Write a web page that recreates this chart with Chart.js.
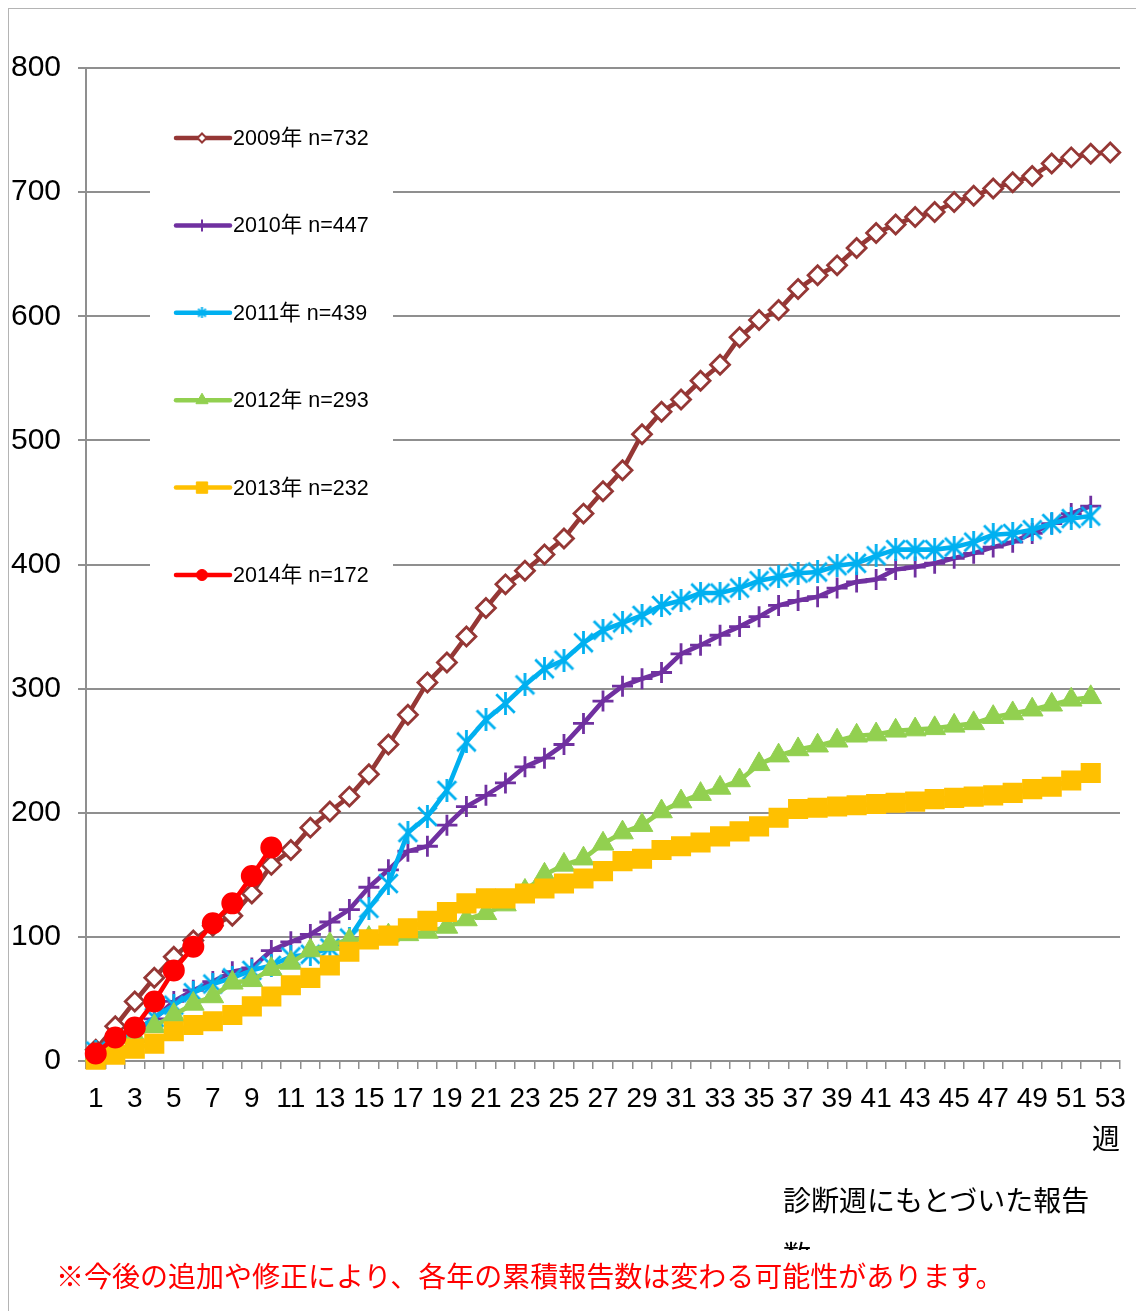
<!DOCTYPE html>
<html lang="ja">
<head>
<meta charset="utf-8">
<title>累積報告数</title>
<script src="https://cdn.jsdelivr.net/npm/chart.js@4.4.1/dist/chart.umd.min.js"></script>
<style>
  html, body { margin: 0; padding: 0; background: #fff; }
  #wrap { position: relative; width: 1136px; height: 1311px; overflow: hidden; background: #fff; }
  #frame { position: absolute; left: 8px; top: 8px; width: 1300px; height: 1400px;
           border-left: 1.5px solid #b4b4b4; border-top: 1.5px solid #b4b4b4; }
  #chart { position: absolute; left: 0; top: 0; }
  .jp { position: absolute; white-space: nowrap; color: #000;
        font-family: "Noto Sans CJK JP", "Noto Sans CJK SC", sans-serif; }
  #unit { left: 1092px; top: 1118px; font-size: 28px; line-height: 38px; }
  #basis { left: 783px; top: 1172px; width: 312px; height: 78px; overflow: hidden;
           white-space: normal; font-size: 28px; line-height: 55px; }
  #note { left: 56px; top: 1256px; font-size: 28px; line-height: 38px; color: #ff0000; }
</style>
</head>
<body>
<div id="wrap">
  <div id="frame"></div>
  <canvas id="chart" width="1136" height="1311"></canvas>
  <div class="jp" id="unit">週</div>
  <div class="jp" id="basis">診断週にもとづいた報告数</div>
  <div class="jp" id="note">※今後の追加や修正により、各年の累積報告数は変わる可能性があります。</div>
</div>
<script>
// Week numbers on the category axis
const weekLabels = ['1','2','3','4','5','6','7','8','9','10','11','12','13','14','15','16','17','18','19','20',
  '21','22','23','24','25','26','27','28','29','30','31','32','33','34','35','36','37','38','39','40',
  '41','42','43','44','45','46','47','48','49','50','51','52','53'];

// Cumulative number of reports by diagnosis week
const cum2009 = [9, 28, 48, 67, 84, 97, 109, 117, 135, 158, 170, 188, 201, 213, 231, 255, 279, 305, 321, 342,
  365, 384, 395, 408, 421, 441, 459, 476, 505, 523, 533, 548, 561, 583, 597, 605, 622, 633, 641, 655,
  667, 674, 680, 684, 692, 697, 703, 708, 713, 723, 728, 731, 732];
const cum2010 = [7, 16, 24, 34, 48, 57, 64, 72, 75, 89, 96, 102, 112, 122, 140, 154, 169, 173, 190, 205,
  214, 224, 237, 244, 255, 272, 290, 302, 308, 313, 328, 335, 343, 350, 358, 367, 371, 374, 381, 386,
  388, 396, 398, 401, 405, 409, 414, 418, 425, 433, 441, 447];
const cum2011 = [8, 15, 23, 35, 45, 55, 62, 67, 73, 77, 84, 86, 91, 99, 123, 143, 184, 197, 218, 257,
  275, 288, 303, 316, 323, 337, 347, 353, 359, 367, 371, 377, 377, 381, 387, 390, 393, 394, 399, 401,
  407, 412, 412, 412, 414, 418, 424, 425, 428, 433, 437, 439];
const cum2012 = [5, 12, 20, 28, 37, 46, 52, 63, 65, 74, 79, 89, 94, 97, 99, 101, 102, 104, 108, 114,
  119, 126, 137, 150, 158, 163, 175, 184, 190, 201, 209, 215, 220, 226, 239, 246, 251, 254, 258, 262,
  263, 266, 267, 268, 270, 272, 277, 280, 283, 287, 291, 293];
const cum2013 = [1, 5, 10, 14, 24, 29, 32, 37, 44, 52, 61, 67, 77, 88, 98, 101, 107, 113, 120, 127,
  131, 131, 135, 139, 143, 147, 153, 161, 163, 170, 173, 176, 181, 185, 189, 196, 203, 204, 205, 206,
  207, 208, 209, 211, 212, 213, 214, 216, 219, 221, 226, 232];
const cum2014 = [6, 19, 27, 48, 73, 92, 111, 127, 149, 172];

const seriesNames = ['2009年 n=732', '2010年 n=447', '2011年 n=439', '2012年 n=293', '2013年 n=232', '2014年 n=172'];
const yTicks = [0, 100, 200, 300, 400, 500, 600, 700, 800];

const LATIN = '"Liberation Sans", Arial, "Noto Sans CJK JP", sans-serif';
const GRID = '#8f8f8f';

// Excel-style asterisk marker: an X crossed by a vertical stroke
function asteriskMarker(size, color, lw) {
  const c = document.createElement('canvas');
  c.width = size; c.height = size;
  const g = c.getContext('2d');
  g.strokeStyle = color; g.lineWidth = lw;
  const a = lw * 0.8, b = size - lw * 0.8;
  g.beginPath();
  g.moveTo(a, a); g.lineTo(b, b);
  g.moveTo(b, a); g.lineTo(a, b);
  g.moveTo(size / 2, 0); g.lineTo(size / 2, size);
  g.stroke();
  return c;
}
const starBig = asteriskMarker(23, '#00B0F0', 2.8);
const starSmall = asteriskMarker(11, '#00B0F0', 2);

const styles = [
  { color: '#953735', fill: '#ffffff', point: 'rectRot', r: 9.5, bw: 2.8, lr: 4.5, lbw: 2 },
  { color: '#7030A0', fill: '#7030A0', point: 'cross', r: 10.5, bw: 2.8, lr: 6, lbw: 2 },
  { color: '#00B0F0', fill: '#00B0F0', point: starBig, legendPoint: starSmall, r: 11, bw: 0, lr: 5, lbw: 0 },
  { color: '#92D050', fill: '#92D050', point: 'triangle', r: 12.5, bw: 1, lr: 7, lbw: 1 },
  { color: '#FFC000', fill: '#FFC000', point: 'rect', r: 12.8, bw: 2, lr: 8, lbw: 1 },
  { color: '#FF0000', fill: '#FF0000', point: 'circle', r: 10, bw: 2, lr: 5.5, lbw: 1 }
];
const seriesData = [cum2009, cum2010, cum2011, cum2012, cum2013, cum2014];

const datasets = seriesData.map((d, i) => ({
  label: seriesNames[i],
  data: d,
  borderColor: styles[i].color,
  backgroundColor: styles[i].fill,
  borderWidth: 4.6,
  tension: 0,
  pointStyle: styles[i].point,
  pointRadius: styles[i].r,
  pointBorderWidth: styles[i].bw,
  pointBorderColor: styles[i].color,
  pointBackgroundColor: styles[i].fill,
  clip: false,
  order: seriesData.length - 1 - i   // later years are painted on top
}));

// Legend box placed inside the plot, covering the gridlines behind it
const insetLegend = {
  id: 'insetLegend',
  beforeDatasetsDraw(chart) {
    const ctx = chart.ctx;
    const area = chart.chartArea;
    const bx = area.left + 64, by = area.top + 30, bw = 243, bh = 510;
    ctx.save();
    ctx.fillStyle = '#ffffff';
    ctx.fillRect(bx, by, bw, bh);
    const rowTop = area.top + 70, rowStep = 87.4;
    seriesNames.forEach((name, i) => {
      const y = rowTop + i * rowStep;
      const st = styles[i];
      ctx.strokeStyle = st.color;
      ctx.lineWidth = 4.5;
      ctx.lineCap = 'round';
      ctx.beginPath();
      ctx.moveTo(area.left + 90, y);
      ctx.lineTo(area.left + 144, y);
      ctx.stroke();
      ctx.lineCap = 'butt';
      ctx.fillStyle = st.fill;
      ctx.strokeStyle = st.color;
      ctx.lineWidth = st.lbw;
      Chart.helpers.drawPoint(ctx, {
        pointStyle: st.legendPoint || st.point,
        radius: st.lr,
        borderWidth: st.lbw,
        rotation: 0
      }, area.left + 116, y);
      ctx.fillStyle = '#000';
      ctx.font = '21.5px ' + LATIN;
      ctx.textBaseline = 'middle';
      ctx.textAlign = 'left';
      ctx.fillText(name, area.left + 147, y + 1);
    });
    ctx.restore();
  }
};

new Chart(document.getElementById('chart'), {
  type: 'line',
  data: { labels: weekLabels, datasets },
  plugins: [insetLegend],
  options: {
    responsive: false,
    animation: false,
    events: [],
    layout: { padding: { top: 68, right: 16, left: 0, bottom: 0 } },
    plugins: { legend: { display: false }, tooltip: { enabled: false } },
    scales: {
      x: {
        type: 'category',
        offset: true,
        afterFit(scale) {
          scale.height = 250;
          // keep the plot edge fixed; the last label may overhang the right margin
          scale.paddingLeft = 0;
          scale.paddingRight = 0;
        },
        grid: { display: true, offset: true, drawOnChartArea: false, drawTicks: true,
                tickLength: 8, color: GRID, lineWidth: 1.5 },
        border: { display: true, color: GRID, width: 2 },
        ticks: {
          autoSkip: false, maxRotation: 0, minRotation: 0, padding: 13,
          color: '#000', font: { family: LATIN, size: 28 },
          callback: (v, idx) => (idx % 2 === 0 ? weekLabels[idx] : '')
        }
      },
      y: {
        min: yTicks[0], max: yTicks[yTicks.length - 1],
        afterFit(scale) { scale.width = 86; },
        afterBuildTicks(scale) { scale.ticks = yTicks.map(v => ({ value: v })); },
        grid: { color: GRID, lineWidth: 2, tickLength: 8, drawTicks: true },
        border: { display: true, color: GRID, width: 2 },
        ticks: { padding: 17, color: '#000', font: { family: LATIN, size: 30 } }
      }
    }
  }
});
</script>
</body>
</html>
